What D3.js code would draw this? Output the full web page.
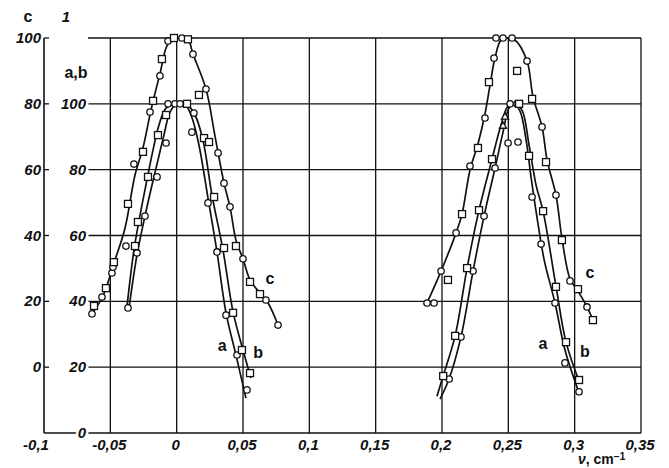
<!DOCTYPE html>
<html>
<head>
<meta charset="utf-8">
<script src="https://cdn.jsdelivr.net/npm/d3@7"></script>
<style>
  body { margin: 0; background: #fff; }
  svg { display: block; }
  .num { font-family: "Liberation Sans", Arial, sans-serif; font-weight: bold; font-style: italic; font-size: 15px; fill: #111; }
  .lbl { font-family: "Liberation Sans", Arial, sans-serif; font-weight: bold; font-size: 16px; fill: #111; }
</style>
</head>
<body>
<div id="chart-area"></div>
<script>
// axis ticks
var xTicks = [-0.1, -0.05, 0, 0.05, 0.1, 0.15, 0.2, 0.25, 0.3, 0.35];
var xTickLabels = ["-0,1", "-0,05", "0", "0,05", "0,1", "0,15", "0,2", "0,25", "0,3", "0,35"];
var cTicks = [0, 20, 40, 60, 80, 100];
var abTicks = [0, 20, 40, 60, 80, 100];

// drawn curves [nu, value]; c on c-scale, a and b on a,b-scale
var cLeftLine = [[-0.0638,16.2],[-0.0555,21.7],[-0.0472,31.7],[-0.0389,42.3],[-0.0314,58.4],[-0.0254,66.6],[-0.0193,78.2],[-0.0126,89.1],[-0.0065,98.2],[0.0010,100],[0.0085,99.4],[0.0123,95.1],[0.0221,84.5],[0.0289,70.2],[0.0357,55.9],[0.0402,48.7],[0.0447,38.6],[0.0500,32.9],[0.0553,26.5],[0.0628,22.5],[0.0689,19.5],[0.0764,12.8]];
var aLeftLine = [[-0.0359,38.0],[-0.0299,54.1],[-0.0239,65.9],[-0.0186,75.3],[-0.0141,82.9],[-0.0096,90.5],[-0.0050,97.5],[0.0002,100],[0.0063,99.9],[0.0116,95.7],[0.0168,87.5],[0.0236,71.4],[0.0304,55.0],[0.0372,36.5],[0.0447,23.7],[0.0522,10.6]];
var bLeftLine = [[-0.0374,38.6],[-0.0322,55.6],[-0.0276,66.2],[-0.0224,76.9],[-0.0178,86.0],[-0.0133,93.6],[-0.0080,98.7],[-0.0005,100],[0.0070,100],[0.0138,96.6],[0.0198,89.0],[0.0266,72.3],[0.0349,55.6],[0.0425,36.8],[0.0500,25.2],[0.0560,16.7]];
var cRightLine = [[0.1887,19.5],[0.1993,29.2],[0.2106,40.8],[0.2151,46.5],[0.2211,59.9],[0.2271,67.8],[0.2324,76.9],[0.2362,85.7],[0.2399,93.9],[0.2445,99.4],[0.2490,100],[0.2550,99.4],[0.2641,93.0],[0.2686,82.1],[0.2754,73.0],[0.2792,62.9],[0.2859,52.3],[0.2904,39.2],[0.2965,26.8],[0.3025,23.1],[0.3093,18.3],[0.3138,14.3]];
var aRightLine = [[0.1985,10.3],[0.2053,16.4],[0.2143,29.2],[0.2234,49.2],[0.2317,65.9],[0.2400,80.5],[0.2460,91.4],[0.2505,98.7],[0.2543,100],[0.2588,97.8],[0.2634,89.0],[0.2672,77.5],[0.2717,65.3],[0.2770,52.6],[0.2852,39.5],[0.2927,25.2],[0.3033,12.2]];
var bRightLine = [[0.1962,11.2],[0.2008,17.3],[0.2099,29.5],[0.2189,50.1],[0.2279,67.7],[0.2377,83.2],[0.2445,93.6],[0.2498,99.3],[0.2551,100],[0.2603,98.1],[0.2656,87.5],[0.2709,75.3],[0.2762,67.4],[0.2860,44.4],[0.2935,27.6],[0.3033,15.8]];

// measured points
var cCircles = [[-0.0638,16.2],[-0.0563,21.3],[-0.0488,28.6],[-0.0480,30.4],[-0.0382,36.8],[-0.0322,61.7],[-0.0201,77.5],[-0.0126,88.5],[-0.0065,99.1],[0.0040,100],[0.0123,95.1],[0.0221,84.5],[0.0312,65.1],[0.0357,55.9],[0.0402,48.7],[0.0500,32.9],[0.0673,20.4],[0.0764,12.8],
  [0.1887,19.5],[0.1940,19.5],[0.1993,29.2],[0.2106,40.8],[0.2211,61.1],[0.2324,75.7],[0.2392,93.9],[0.2407,100],[0.2460,100],[0.2528,100],[0.2641,93.0],[0.2754,73.0],[0.2859,52.3],[0.2965,26.2],[0.3093,18.3]];
var cSquares = [[-0.0623,18.6],[-0.0533,24.0],[-0.0473,31.9],[-0.0367,49.6],[-0.0254,65.4],[-0.0178,80.9],[-0.0111,93.6],[-0.0020,100],[0.0085,99.6],[0.0168,82.7],[0.0447,36.8],[0.0553,25.9],[0.0628,22.2],
  [0.2045,26.5],[0.2151,46.5],[0.2271,66.6],[0.2354,86.6],[0.2566,90.0],[0.2679,81.5],[0.2784,62.3],[0.2904,38.6],[0.3025,23.7],[0.3138,14.3]];
var abCircles = [[-0.0367,38.0],[-0.0299,54.7],[-0.0239,65.9],[-0.0148,77.8],[-0.0080,88.1],[-0.0065,100],[-0.0013,100],[0.0025,100],[0.0130,97.2],[0.0115,91.4],[0.0236,69.9],[0.0304,55.0],[0.0372,35.8],[0.0455,23.7],[0.0530,13.1],
  [0.2054,16.4],[0.2143,29.2],[0.2234,49.2],[0.2317,65.9],[0.2400,80.5],[0.2498,88.1],[0.2573,88.4],[0.2513,100],[0.2566,100],[0.2679,71.7],[0.2747,57.4],[0.2852,39.5],[0.2927,21.3],[0.3033,12.5]];
var abSquares = [[-0.0314,56.8],[-0.0292,64.1],[-0.0216,77.8],[-0.0141,90.5],[-0.0080,96.6],[0.0078,100],[0.0206,89.6],[0.0244,88.4],[0.0282,71.7],[0.0357,56.2],[0.0425,36.5],[0.0492,25.2],[0.0553,18.2],
  [0.2009,17.3],[0.2099,29.5],[0.2189,50.1],[0.2279,67.7],[0.2377,83.2],[0.2581,100],[0.2656,84.2],[0.2762,67.4],[0.2859,44.4],[0.2935,27.6],[0.3033,16.1]];
var abTriangles = [[0.2475,96.0],[0.2460,93.2]];

var curveLabels = [["a",0.0343,26.4],["b",0.0614,24.3],["c",0.0703,46.8],["c",0.3116,48.6],["a",0.2761,27.0],["b",0.3078,24.6]];

var width = 669, height = 468;
var svg = d3.select("#chart-area").append("svg")
    .attr("width", width)
    .attr("height", height);

var x = d3.scaleLinear().domain([-0.1, 0.35]).range([44, 641]);
var yC = d3.scaleLinear().domain([-20, 100]).range([433, 38]);
var yAB = d3.scaleLinear().domain([0, 120]).range([433, 38]);

var ink = "#111";
var grid = svg.append("g").attr("stroke", ink).attr("stroke-width", 1.3);

// vertical grid
grid.selectAll(".v").data(xTicks.slice(1)).enter().append("line")
    .attr("x1", d => x(d)).attr("x2", d => x(d))
    .attr("y1", yC(100)).attr("y2", yAB(0));

// horizontal grid (c = 0..100)
grid.selectAll(".h").data(cTicks).enter().append("line")
    .attr("x1", x(-0.1) + 44).attr("x2", x(0.35))
    .attr("y1", d => yC(d)).attr("y2", d => yC(d));

// bottom and left axis
grid.append("line").attr("x1", x(-0.1)).attr("x2", x(0.35)).attr("y1", yAB(0)).attr("y2", yAB(0)).attr("stroke-width", 1.6);
grid.append("line").attr("x1", x(-0.1)).attr("x2", x(-0.1)).attr("y1", yC(100)).attr("y2", yAB(0)).attr("stroke-width", 1.6);
grid.selectAll(".t").data(cTicks).enter().append("line")
    .attr("x1", x(-0.1)).attr("x2", x(-0.1) + 5)
    .attr("y1", d => yC(d)).attr("y2", d => yC(d));

// tick labels
svg.selectAll(".xl").data(xTicks).enter().append("text")
    .attr("class", "num")
    .attr("x", (d, i) => x(d) - (i === 0 ? 8 : 1))
    .attr("y", 450)
    .attr("text-anchor", "middle")
    .text((d, i) => xTickLabels[i]);

svg.selectAll(".cl").data(cTicks).enter().append("text")
    .attr("class", "num")
    .attr("x", 41).attr("y", d => yC(d) + 5)
    .attr("text-anchor", "end")
    .text(d => d);

svg.selectAll(".al").data(abTicks).enter().append("text")
    .attr("class", "num")
    .attr("x", 86).attr("y", d => yAB(d) + 5)
    .attr("text-anchor", "end")
    .attr("stroke", "#fff").attr("stroke-width", 5).attr("paint-order", "stroke")
    .text(d => d);

// axis titles
svg.append("text").attr("class", "lbl").attr("x", 28).attr("y", 22).attr("text-anchor", "middle").text("c");
svg.append("text").attr("class", "num").attr("x", 66).attr("y", 22).attr("text-anchor", "middle").text("1");
svg.append("text").attr("class", "lbl").attr("x", 76).attr("y", 78).attr("text-anchor", "middle").text("a,b");
var nuLabel = svg.append("text").attr("class", "lbl").attr("x", 578).attr("y", 464).style("font-size", "14px");
nuLabel.append("tspan").style("font-style", "italic").text("ν");
nuLabel.append("tspan").text(", cm");
nuLabel.append("tspan").attr("dy", -4).style("font-size", "10px").text("−1");

// curves
var lineC = d3.line().x(d => x(d[0])).y(d => yC(d[1])).curve(d3.curveCatmullRom.alpha(0.5));
var lineAB = d3.line().x(d => x(d[0])).y(d => yAB(d[1])).curve(d3.curveCatmullRom.alpha(0.5));
var curves = svg.append("g").attr("fill", "none").attr("stroke", ink).attr("stroke-width", 1.7);
[cLeftLine, cRightLine].forEach(l => curves.append("path").attr("d", lineC(l)));
[aLeftLine, bLeftLine, aRightLine, bRightLine].forEach(l => curves.append("path").attr("d", lineAB(l)));

// markers
var marks = svg.append("g").attr("fill", "#fff").attr("stroke", ink).attr("stroke-width", 1.3);
marks.selectAll(".cc").data(cCircles).enter().append("circle")
    .attr("cx", d => x(d[0])).attr("cy", d => yC(d[1])).attr("r", 3.2);
marks.selectAll(".cs").data(cSquares).enter().append("rect")
    .attr("x", d => x(d[0]) - 3.5).attr("y", d => yC(d[1]) - 3.5).attr("width", 7).attr("height", 7);
marks.selectAll(".ac").data(abCircles).enter().append("circle")
    .attr("cx", d => x(d[0])).attr("cy", d => yAB(d[1])).attr("r", 3.2);
marks.selectAll(".as").data(abSquares).enter().append("rect")
    .attr("x", d => x(d[0]) - 3.5).attr("y", d => yAB(d[1]) - 3.5).attr("width", 7).attr("height", 7);
marks.selectAll(".at").data(abTriangles).enter().append("path")
    .attr("d", d3.symbol().type(d3.symbolTriangle).size(22))
    .attr("transform", d => "translate(" + x(d[0]) + "," + yAB(d[1]) + ")");

// curve names
svg.selectAll(".cn").data(curveLabels).enter().append("text")
    .attr("class", "lbl")
    .attr("x", d => x(d[1])).attr("y", d => yAB(d[2]) + 5)
    .attr("text-anchor", "middle")
    .text(d => d[0]);
</script>
</body>
</html>
